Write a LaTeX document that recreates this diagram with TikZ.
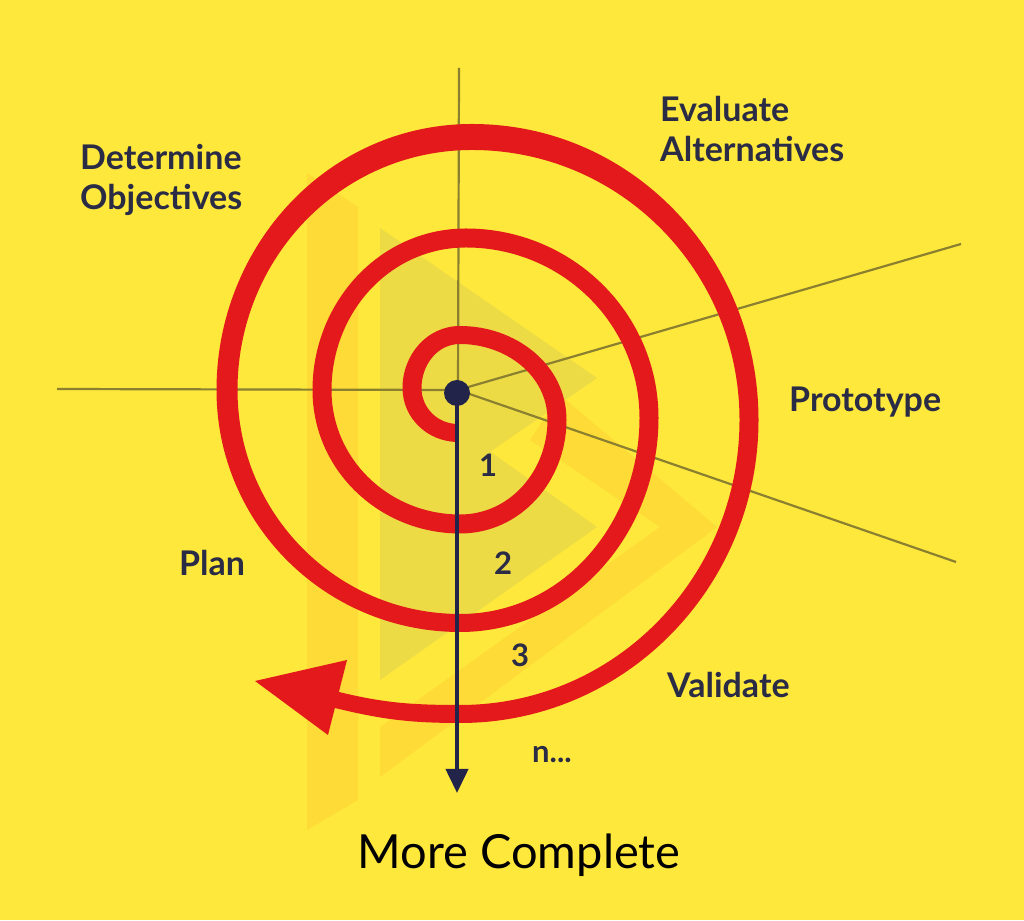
\documentclass[tikz,border=0pt]{standalone}
\usepackage{fontspec}
\setmainfont{Lato}
\usetikzlibrary{arrows.meta}
\definecolor{bgyellow}{HTML}{FFE83C}
\definecolor{spiralred}{HTML}{E3191B}
\definecolor{navy}{HTML}{22244A}
\definecolor{labelnavy}{HTML}{2A2B45}
\definecolor{axisolive}{HTML}{8A8030}
\definecolor{wmgray}{HTML}{EDDB46}
\definecolor{wmorange}{HTML}{FEDB36}
\tikzset{
  axisline/.style={draw=axisolive, line width=2.2pt},
  lbl/.style={text=labelnavy, font=\bfseries\fontsize{34}{40}\selectfont, inner sep=0pt, anchor=base west, align=left},
  numlbl/.style={text=labelnavy, font=\bfseries\fontsize{31}{36}\selectfont, inner sep=0pt, anchor=base west},
}
\begin{document}
\begin{tikzpicture}[x=1pt,y=1pt]
\useasboundingbox (0,0) rectangle (1024,920);
\fill[bgyellow] (0,0) rectangle (1024,920);

% faint watermark
\fill[wmorange] (307,920-173) -- (358,920-207) -- (358,920-800) -- (307,920-830) -- cycle;
\fill[wmorange] (560,920-395) -- (717,920-527) -- (380,920-777) -- (380,920-727) -- (660,920-527) -- (530,920-440) -- cycle;
\fill[wmgray] (380,920-228) -- (597,920-378) -- (380,920-528) -- cycle;
\fill[wmgray] (380,920-374) -- (597,920-527) -- (380,920-680) -- cycle;

% axes
\coordinate (C) at (458,920-390);
\coordinate (axW) at (57,920-389);
\coordinate (axN) at (459,920-68);
\coordinate (axNE) at (961,920-244);
\coordinate (axSE) at (956,920-562);
\draw[axisline] (axW) -- (C);
\draw[axisline] (axN) -- (C);
\draw[axisline] (C) -- (axNE);
\draw[axisline] (C) -- (axSE);

% spiral band: outer edge points
\coordinate (A0o) at (458,920-442);
\coordinate (L1o) at (402.5,920-388);
\coordinate (T1o) at (460,920-326);
\coordinate (R1o) at (566.5,920-420);
\coordinate (B1o) at (460,920-533.5);
\coordinate (L2o) at (312.5,920-390);
\coordinate (T2o) at (466,920-228.5);
\coordinate (R2o) at (658.5,920-418);
\coordinate (B2o) at (460,920-632);
\coordinate (L3o) at (216.5,920-390);
\coordinate (T3o) at (472,920-124);
\coordinate (R3o) at (758.5,920-420);
\coordinate (B3o) at (460,920-723);
\coordinate (Eo) at (331,920-707);
% inner edge points
\coordinate (A0i) at (458,920-424);
\coordinate (L1i) at (421.5,920-388);
\coordinate (T1i) at (460,920-344);
\coordinate (R1i) at (547.5,920-420);
\coordinate (B1i) at (460,920-514.5);
\coordinate (L2i) at (331.5,920-390);
\coordinate (T2i) at (466,920-247.5);
\coordinate (R2i) at (639.5,920-418);
\coordinate (B2i) at (460,920-614);
\coordinate (L3i) at (237.5,920-390);
\coordinate (T3i) at (472,920-150);
\coordinate (R3i) at (739.5,920-420);
\coordinate (B3i) at (460,920-705);
\coordinate (Ei) at (335,920-691);

\fill[spiralred] (A0o) to[out=180,in=270] (L1o) to[out=90,in=180] (T1o)
  to[out=0,in=90] (R1o) to[out=270,in=0] (B1o) to[out=180,in=270] (L2o)
  to[out=90,in=180] (T2o) to[out=0,in=90] (R2o) to[out=270,in=0] (B2o)
  to[out=180,in=270] (L3o) to[out=90,in=180] (T3o) to[out=0,in=90] (R3o)
  to[out=270,in=0] (B3o) to[out=180,in=346] (Eo) -- (Ei)
  to[out=346,in=180] (B3i) to[out=0,in=270] (R3i) to[out=90,in=0] (T3i)
  to[out=180,in=90] (L3i) to[out=270,in=180] (B2i) to[out=0,in=270] (R2i)
  to[out=90,in=0] (T2i) to[out=180,in=90] (L2i) to[out=270,in=180] (B1i)
  to[out=0,in=270] (R1i) to[out=90,in=0] (T1i) to[out=180,in=90] (L1i)
  to[out=270,in=180] (A0i) -- cycle;

% red arrowhead
\coordinate (tipR) at (255,920-681);
\coordinate (hdU) at (347,920-660);
\coordinate (hdL) at (328,920-735);
\fill[spiralred] (tipR) -- (hdU) -- (hdL) -- cycle;

% navy arrow and dot
\node[circle, fill=navy, minimum size=26pt, inner sep=0pt] (dot) at (457,920-393) {};
\coordinate (navyEnd) at (457,920-793);
\draw[navy, line width=4pt, -{Triangle[length=24pt,width=22pt]}] (dot.center) -- (navyEnd);

% labels (base = baseline of last line)
\node[lbl] (detobj) at (80,920-210) {Determine\\Objectives};
\node[lbl] (evalalt) at (660,920-162) {Evaluate\\Alternatives};
\node[lbl] (proto) at (789,920-412) {Prototype};
\node[lbl] (plan) at (179,920-576) {Plan};
\node[lbl] (valid) at (667,920-698) {Validate};
\node[numlbl] (n1) at (479,920-477) {1};
\node[numlbl] (n2) at (494,920-575) {2};
\node[numlbl] (n3) at (511,920-667) {3};
\node[numlbl] (nn) at (532,920-763) {n...};
\node[text=black, font=\fontsize{47}{52}\selectfont, inner sep=0pt, anchor=base] (more) at (519,920-868) {More Complete};
\end{tikzpicture}
\end{document}
